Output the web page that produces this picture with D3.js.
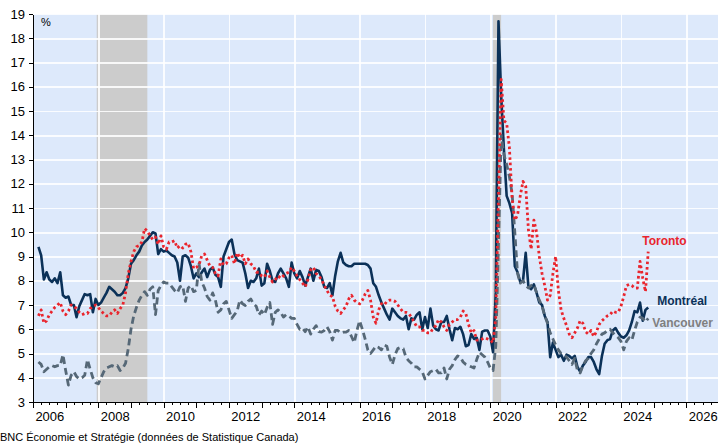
<!DOCTYPE html>
<meta charset="utf-8">
<style>
body { margin: 0; background: #fff; }
svg { font-family: "Liberation Sans", Arial, sans-serif; }
.axis path, .axis line { stroke: #000; shape-rendering: crispEdges; }
.axis text { font-size: 13px; fill: #000; }
.grid path { display: none; }
.grid line { stroke: #fff; stroke-width: 1.6; shape-rendering: crispEdges; }
.line { fill: none; stroke-linejoin: round; }
</style>
<body>
<svg width="718" height="444"></svg>
<script src="https://d3js.org/d3.v7.min.js"></script>
<script>
// monthly series, first value = March 2006
var startYear = 2006, startMonth = 3;

var montreal = [
  9.4, 9.05, 8.05, 8.35, 8.05, 7.95, 8.1, 7.9, 8.35, 7.4,
  7.3, 7.35, 7.0, 7.0, 6.5, 6.95, 7.2, 7.45, 7.4, 7.45, 6.7, 7.25,
  7.0, 7.1, 7.3, 7.5, 7.75, 7.65, 7.55, 7.4, 7.4, 7.5, 7.7, 8.1,
  8.7, 8.85, 9.05, 9.2, 9.45, 9.6, 9.7, 9.85, 10.0, 9.95, 9.1, 9.3,
  9.2, 9.25, 9.15, 9.05, 9.0, 8.75, 8.0, 9.0, 9.05, 8.95, 8.6, 8.1,
  8.3, 8.15, 8.35, 8.5, 8.15, 8.45, 8.55, 8.25, 8.15, 7.75, 9.0, 9.3,
  9.6, 9.7, 9.1, 8.85, 8.8, 8.75, 8.3, 7.7, 8.0, 7.95, 8.1, 8.5,
  7.8, 7.9, 8.7, 8.4, 8.0, 7.95, 8.3, 8.5, 8.3, 8.1, 7.75, 8.75,
  8.3, 8.1, 8.4, 8.15, 7.8, 8.15, 8.5, 8.0, 8.45, 8.4, 8.15, 7.75,
  7.7, 7.9, 7.4, 8.2, 8.8, 9.15, 8.75, 8.65, 8.6, 8.6, 8.7, 8.7,
  8.7, 8.7, 8.7, 8.65, 8.5, 7.9, 7.75, 7.4, 7.1, 6.85, 6.6, 6.4,
  6.85, 6.7, 6.55, 6.45, 6.4, 6.55, 6.0, 6.45, 6.4, 6.6, 6.7, 6.0,
  6.5, 6.05, 6.85, 6.15, 6.0, 5.95, 6.3, 6.3, 6.55, 6.0, 5.55, 6.05,
  6.0, 6.1, 5.8, 5.3, 5.35, 5.8, 5.6, 5.65, 5.15, 5.9, 5.95, 5.95,
  5.7, 5.05, 7.5, 18.7, 15.6, 13.4, 11.5, 11.2, 10.8, 8.6, 8.35, 7.95,
  8.0, 9.15, 7.75, 7.65, 7.85, 7.5, 7.1, 7.0, 6.55, 6.3, 4.85, 5.45,
  5.15, 4.85, 4.95, 4.7, 4.95, 4.9, 4.8, 4.9, 4.45, 4.25, 4.5, 4.65,
  4.85, 4.85, 4.65, 4.35, 4.15, 4.9, 5.4, 5.55, 5.6, 5.95, 6.05, 5.85,
  5.7, 5.65, 5.75, 5.95, 6.3, 6.75, 6.7, 7.1, 6.35, 6.8, 6.9
];

var toronto = [
  6.55, 6.8, 6.25, 6.35, 6.6, 6.75, 6.9, 7.0, 7.1, 6.75,
  6.6, 6.75, 7.0, 6.95, 6.85, 6.7, 6.6, 6.65, 6.65, 6.85, 6.95, 7.0,
  6.9, 6.75, 6.65, 6.55, 6.55, 6.7, 6.8, 6.65, 6.85, 7.0, 7.5, 8.3,
  8.8, 9.2, 9.4, 9.45, 9.6, 10.15, 10.05, 9.85, 9.7, 9.8, 9.5, 9.85,
  9.4, 9.3, 9.6, 9.6, 9.65, 9.35, 9.45, 9.35, 9.5, 9.55, 9.2, 8.5,
  8.55, 8.65, 9.05, 9.1, 8.85, 8.6, 8.55, 8.3, 8.2, 8.9, 8.65, 8.7,
  8.95, 9.05, 8.7, 9.15, 8.95, 9.05, 8.7, 8.9, 8.7, 8.6, 8.35, 8.35,
  8.2, 8.15, 8.4, 8.15, 7.95, 8.05, 8.2, 8.1, 8.2, 8.3, 8.35, 8.55,
  8.4, 8.2, 8.05, 7.9, 7.75, 8.05, 8.45, 8.55, 8.3, 8.2, 8.05, 7.8,
  7.6, 7.4, 7.35, 6.95, 6.75, 6.65, 6.8, 6.95, 7.25, 7.4, 7.2, 7.1,
  7.05, 7.2, 7.45, 7.6, 7.2, 6.5, 6.25, 6.8, 7.05, 7.0, 7.15, 7.2,
  7.2, 7.15, 7.0, 6.85, 6.7, 6.7, 6.65, 6.5, 6.3, 6.1, 6.1, 5.95,
  5.95, 5.85, 5.85, 6.05, 6.15, 6.4, 6.3, 6.1, 5.95, 6.2, 6.3, 6.4,
  6.4, 6.5, 6.75, 6.65, 6.2, 5.85, 5.95, 5.55, 5.55, 5.6, 5.65, 5.6,
  5.55, 5.45, 6.5, 11.5, 16.3, 14.6, 14.5, 13.5, 11.4, 10.5, 10.7, 11.5,
  12.1, 11.9, 10.1, 9.3, 10.5, 10.0, 9.0, 8.3, 7.8, 7.2, 7.4, 8.3,
  9.0, 7.6, 6.8, 6.45, 6.15, 5.8, 5.65, 5.85, 6.05, 6.35, 6.25, 5.9,
  5.8, 5.95, 5.7, 5.9, 6.2, 6.35, 6.45, 6.55, 6.6, 6.75, 6.7, 6.7,
  6.95, 7.35, 7.8, 7.85, 7.8, 7.7, 7.7, 8.8, 8.1, 7.55, 9.2
];

var vancouver = [
  4.65, 4.55, 4.25, 4.35, 4.45, 4.5, 4.45, 4.5, 4.5, 4.95,
  4.3, 3.7, 4.1, 4.25, 4.05, 3.95, 4.0, 4.1, 4.75, 4.35, 4.0, 3.8,
  3.75, 4.0, 4.25, 4.4, 4.45, 4.5, 4.45, 4.5, 4.3, 4.4, 4.6, 5.2,
  6.0, 6.55, 6.9, 7.2, 7.4, 7.55, 7.4, 7.65, 7.75, 6.6, 7.6, 7.8,
  7.95, 7.9, 7.9, 7.75, 7.6, 7.5, 7.75, 7.8, 7.15, 7.7, 7.8, 7.55,
  7.6, 8.7, 7.95, 7.7, 7.35, 7.2, 7.5, 7.2, 6.7, 6.8, 7.05, 7.15,
  6.8, 6.45, 6.6, 6.75, 7.2, 7.05, 6.98, 7.15, 7.25, 7.05, 6.95, 6.6,
  6.75, 6.6, 6.9, 7.1, 6.2, 6.7, 6.8, 6.7, 6.5, 6.6, 6.55, 6.45,
  6.45, 6.2, 6.0, 6.05, 5.9, 6.1, 5.8, 6.0, 6.15, 5.9, 5.88, 5.95,
  6.1, 5.9, 5.55, 5.95, 5.95, 5.85, 5.88, 5.88, 5.95, 5.7, 5.45, 5.95,
  6.35, 6.0, 5.6, 5.15, 5.0, 5.15, 5.3, 5.25, 5.15, 5.35, 5.3, 4.85,
  4.55, 4.95, 5.2, 5.25, 5.2, 4.85, 4.7, 4.6, 4.45, 4.45, 4.35, 4.25,
  3.95, 4.1, 4.25, 4.3, 4.35, 4.2, 4.2, 4.4, 3.95, 4.35, 4.5, 4.75,
  4.9, 4.85, 4.65, 4.55, 4.5, 4.45, 4.4, 4.75, 5.05, 4.95, 4.85, 4.65,
  4.4, 4.3, 5.3, 9.5, 14.0, 13.2, 12.8, 12.3, 11.6, 10.0, 8.3, 7.9,
  8.0, 7.8, 7.7, 7.8, 7.85, 7.5, 7.2, 6.95, 6.55, 6.25, 5.85, 5.6,
  5.35, 5.15, 5.0, 4.95, 4.85, 4.7, 4.55, 4.8, 4.3, 4.2, 4.5, 4.7,
  4.8, 5.0, 5.15, 5.4, 5.6, 5.8, 5.85, 5.95, 6.0, 5.85, 5.75, 5.65,
  5.5, 5.15, 5.5, 5.65, 5.55, 5.95, 6.3, 6.5, 6.45, 6.3, 6.45
];

// shaded periods (decimal years)
var recessions = [[2007.95, 2009.5], [2020.083, 2020.33]];
var yTicks = d3.range(3, 20);
var yearTicks = d3.range(2006, 2028);
var yearLabels = d3.range(2006, 2027, 2);

var svg = d3.select("svg"),
    margin = {top: 14, right: 0, bottom: 42, left: 33},
    width = +svg.attr("width") - margin.left - margin.right,
    height = +svg.attr("height") - margin.top - margin.bottom;

var x = d3.scaleLinear().domain([2006, 2026.97]).range([0, width]);
var y = d3.scaleLinear().domain([3, 19]).range([height, 0]);

function toPoints(values) {
  return values.map(function(v, i) {
    return {t: startYear + (startMonth - 1 + i) / 12, v: v};
  });
}

var g = svg.append("g")
    .attr("transform", "translate(" + margin.left + "," + margin.top + ")");

g.append("rect")
    .attr("width", width)
    .attr("height", height)
    .attr("fill", "#dde9fb");

g.selectAll(".band")
    .data(recessions)
  .enter().append("rect")
    .attr("class", "band")
    .attr("x", function(d) { return x(d[0]); })
    .attr("width", function(d) { return x(d[1]) - x(d[0]); })
    .attr("y", 0)
    .attr("height", height)
    .attr("fill", "#cccccc");

// gridlines
g.append("g")
    .attr("class", "grid")
    .call(d3.axisLeft(y).tickValues(yTicks.slice(1)).tickSize(-width).tickFormat(""))
    .selectAll("line").attr("stroke-opacity", 0.85);

g.append("g")
    .attr("class", "grid")
    .attr("transform", "translate(0," + height + ")")
    .call(d3.axisBottom(x).tickValues(yearLabels.slice(1)).tickSize(height).tickFormat(""))
    .selectAll("line").attr("transform", "translate(0," + (-height) + ")").attr("y2", height)
    .attr("stroke-opacity", 0.85);

// series
var line = d3.line()
    .x(function(d) { return x(d.t); })
    .y(function(d) { return y(d.v); });

g.append("path")
    .datum(toPoints(montreal))
    .attr("class", "line")
    .attr("stroke", "#0b3158")
    .attr("stroke-width", 2.6)
    .attr("d", line);

g.append("path")
    .datum(toPoints(vancouver))
    .attr("class", "line")
    .attr("stroke", "#566877")
    .attr("stroke-width", 2.8)
    .attr("stroke-dasharray", "7,4")
    .attr("d", line);

g.append("path")
    .datum(toPoints(toronto))
    .attr("class", "line")
    .attr("stroke", "#e9252d")
    .attr("stroke-width", 2.8)
    .attr("stroke-dasharray", "2.6,2.8")
    .attr("d", line);

// axes
g.append("g")
    .attr("class", "axis")
    .call(d3.axisLeft(y).tickValues(yTicks).tickSize(4).tickSizeOuter(0).tickPadding(4));

var quarters = d3.range(2006, 2027.01, 0.25).filter(function(v) { return v % 1 !== 0; });

g.append("g")
    .attr("class", "axis")
    .attr("transform", "translate(0," + height + ")")
    .call(d3.axisBottom(x).tickValues(quarters).tickSize(3).tickSizeOuter(0).tickFormat(""));

g.append("g")
    .attr("class", "axis")
    .attr("transform", "translate(0," + height + ")")
    .call(d3.axisBottom(x).tickValues(yearTicks).tickSize(6).tickSizeOuter(0).tickFormat(""));

var lab = g.append("g")
    .attr("class", "axis")
    .attr("transform", "translate(0," + height + ")")
    .call(d3.axisBottom(x).tickValues(yearLabels.map(function(v) { return v + 0.5; }))
      .tickSize(0).tickPadding(10).tickFormat(function(v) { return Math.floor(v); }));
lab.select(".domain").remove();

g.append("text")
    .attr("x", 8)
    .attr("y", 12)
    .attr("font-size", "11px")
    .text("%");

// series labels
var lastT = startYear + (startMonth - 1 + montreal.length - 1) / 12;

g.append("text")
    .attr("x", x(lastT) - 6)
    .attr("y", y(toronto[toronto.length - 1]) - 7)
    .attr("font-size", "12px").attr("font-weight", "bold")
    .attr("fill", "#e9252d")
    .text("Toronto");

g.append("text")
    .attr("x", x(lastT) + 9)
    .attr("y", y(montreal[montreal.length - 1]) - 2)
    .attr("font-size", "12px").attr("font-weight", "bold")
    .attr("fill", "#0b3158")
    .text("Montréal");

g.append("text")
    .attr("x", x(lastT) + 4)
    .attr("y", y(vancouver[vancouver.length - 1]) + 9)
    .attr("font-size", "12px").attr("font-weight", "bold")
    .attr("fill", "#808080")
    .text("Vancouver");

svg.append("text")
    .attr("x", 0)
    .attr("y", 441)
    .attr("font-size", "11px")
    .text("BNC Économie et Stratégie (données de Statistique Canada)");
</script>
</body>
